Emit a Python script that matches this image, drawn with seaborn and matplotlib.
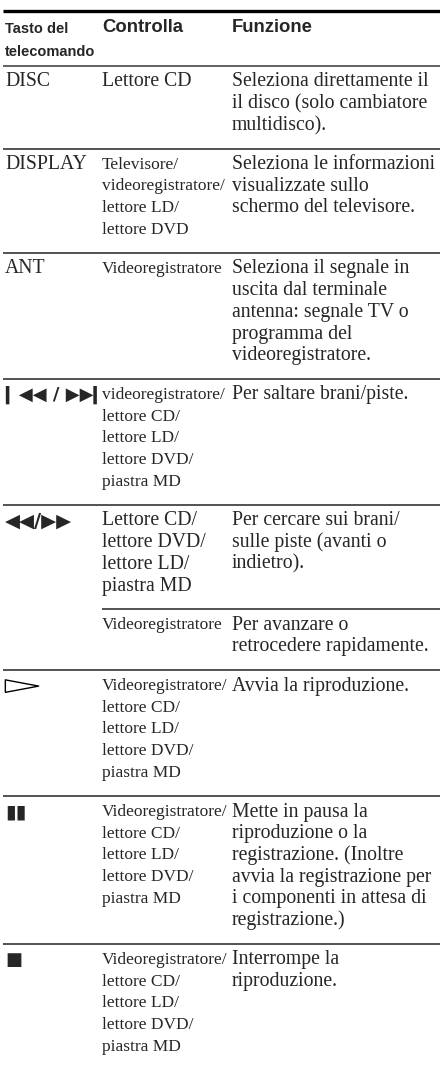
import matplotlib
matplotlib.use("Agg")
import matplotlib.pyplot as plt
import seaborn as sns

# ----------------------------------
# Table content
# ----------------------------------

header_keys = ["Tasto del", "telecomando"]
header_control = "Controlla"
header_function = "Funzione"

keys = [
    "DISC",
    "DISPLAY",
    "ANT",
    "\u258E\u25C0\u25C0 / \u25B6\u25B6\u258E",
    "\u25C0\u25C0/\u25B6\u25B6",
    "",
    "play",
    "\u25AE\u25AE",
    "\u25A0",
]

controls = [
    ["Lettore CD"],
    ["Televisore/", "videoregistratore/", "lettore LD/", "lettore DVD"],
    ["Videoregistratore"],
    ["videoregistratore/", "lettore CD/", "lettore LD/", "lettore DVD/", "piastra MD"],
    ["Lettore CD/", "lettore DVD/", "lettore LD/", "piastra MD"],
    ["Videoregistratore"],
    ["Videoregistratore/", "lettore CD/", "lettore LD/", "lettore DVD/", "piastra MD"],
    ["Videoregistratore/", "lettore CD/", "lettore LD/", "lettore DVD/", "piastra MD"],
    ["Videoregistratore/", "lettore CD/", "lettore LD/", "lettore DVD/", "piastra MD"],
]

# narrow type used in the "Controlla" column
narrow = [False, True, True, True, False, True, True, True, True]

functions = [
    ["Seleziona direttamente il", "il disco (solo cambiatore", "multidisco)."],
    ["Seleziona le informazioni", "visualizzate sullo", "schermo del televisore."],
    ["Seleziona il segnale in", "uscita dal terminale", "antenna: segnale TV o",
     "programma del", "videoregistratore."],
    ["Per saltare brani/piste."],
    ["Per cercare sui brani/", "sulle piste (avanti o", "indietro)."],
    ["Per avanzare o", "retrocedere rapidamente."],
    ["Avvia la riproduzione."],
    ["Mette in pausa la", "riproduzione o la", "registrazione. (Inoltre",
     "avvia la registrazione per", "i componenti in attesa di", "registrazione.)"],
    ["Interrompe la", "riproduzione."],
]

# rows that continue the previous key (separator only across the right columns)
continued = [False, False, False, False, False, True, False, False, False]

# ----------------------------------
# Layout
# ----------------------------------

W, H = 440, 1071
X1, X2, X3 = 5, 102, 232
LH = 21.7
PAD = 17.5
FIRST = 16
BODY = 14.2

symbol_size = {3: 13, 4: 14, 7: 14, 8: 13}

sns.set_theme(style="white")
plt.rcParams["font.family"] = ["Liberation Serif", "DejaVu Sans"]

fig = plt.figure(figsize=(W / 100, H / 100), dpi=100)
ax = fig.add_axes([0, 0, 1, 1])
ax.set_xlim(0, W)
ax.set_ylim(H, 0)
ax.axis("off")

# header
ax.hlines(11, 3, W, color="black", linewidth=2.4)
ax.text(X1, 29, header_keys[0], fontsize=10.5, fontweight="bold",
        family=["Liberation Sans"], va="center")
ax.text(X1, 52, header_keys[1], fontsize=10.5, fontweight="bold",
        family=["Liberation Sans"], va="center")
ax.text(X2, 28, header_control, fontsize=13.3, fontweight="bold",
        family=["Liberation Sans"], va="center")
ax.text(X3, 28, header_function, fontsize=13.3, fontweight="bold",
        family=["Liberation Sans"], va="center")

top = 66
ax.hlines(top, 3, W, color="#555555", linewidth=1.3)

# outline play triangle marker (wide and flat)
play_marker = [(-1.6, -0.6), (1.6, 0.0), (-1.6, 0.6), (-1.6, -0.6)]

for i in range(len(keys)):
    n = max(len(controls[i]), len(functions[i]))
    y0 = top + FIRST

    if keys[i] == "play":
        ax.scatter([X1 + 17], [y0], marker=play_marker, s=24 ** 2,
                   facecolors="none", edgecolors="black", linewidths=1.0)
    elif keys[i]:
        if i < 3:
            ax.text(X1, y0, keys[i], fontsize=BODY, va="center")
        else:
            ax.text(X1, y0, keys[i], fontsize=symbol_size[i], va="center",
                    family=["DejaVu Sans"], fontweight="bold")

    for j, line in enumerate(controls[i]):
        if narrow[i]:
            ax.text(X2, y0 + j * LH, line, fontsize=12.5, va="center")
        else:
            ax.text(X2, y0 + j * LH, line, fontsize=BODY, va="center")

    for j, line in enumerate(functions[i]):
        ax.text(X3, y0 + j * LH, line, fontsize=BODY, va="center")

    top = top + n * LH + PAD
    if i < len(keys) - 1:
        x_start = X2 if continued[i + 1] else 3
        ax.hlines(top, x_start, W, color="#444444", linewidth=1.3)

fig.savefig("out.png", dpi=100)
plt.close(fig)
